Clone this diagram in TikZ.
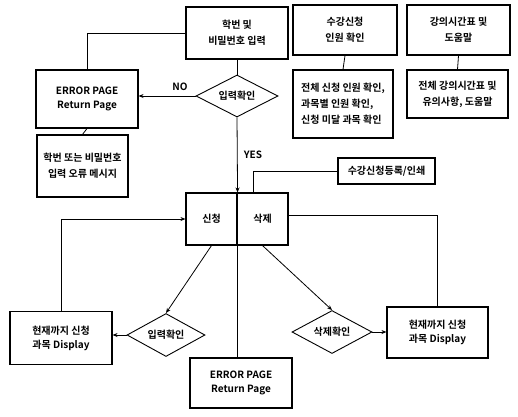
\documentclass[tikz,border=0pt]{standalone}
\usepackage{fontspec}
\setmainfont{Noto Sans CJK KR}[BoldFont={Noto Sans CJK KR Bold}]
\usetikzlibrary{shapes.geometric,arrows.meta,calc}
\begin{document}
\begin{tikzpicture}[x=1pt,y=-1pt,
  box/.style={draw,line width=1.1pt,inner sep=0pt,align=center,font=\fontsize{10}{14}\selectfont\bfseries},
  twol/.style={font=\fontsize{10}{16}\selectfont\bfseries},
  dia/.style={draw,line width=0.9pt,diamond,aspect=2,inner sep=1pt,font=\fontsize{10}{10}\selectfont\bfseries},
  conn/.style={line width=0.8pt},
  arr/.style={line width=0.8pt,-{Stealth[length=5pt,width=4pt]}},
  lbl/.style={font=\fontsize{10}{10}\selectfont\bfseries}]
\useasboundingbox (0,0) rectangle (518,416);
% top row
\node[box,twol,minimum width=102pt,minimum height=52pt] (b1) at (237,33) {학번 및\\비밀번호 입력};
\node[box,twol,minimum width=104pt,minimum height=50pt] (b2) at (345,30) {수강신청\\인원 확인};
\node[box,twol,minimum width=103pt,minimum height=50pt] (b3) at (458.5,30) {강의시간표 및\\도움말};
\node[box,twol,minimum width=100pt,minimum height=68pt,align=left] (b2s) at (343,104) {전체 신청 인원 확인,\\과목별 인원 확인,\\신청 미달 과목 확인};
\node[box,twol,minimum width=101pt,minimum height=48pt] (b3s) at (457.5,94) {전체 강의시간표 및\\유의사항, 도움말};
% error page 1
\node[box,minimum width=102pt,minimum height=58pt] (e1) at (87,99) {ERROR PAGE\\Return Page};
\node[box,twol,minimum width=91pt,minimum height=62pt] (e1s) at (82.5,166) {학번 또는 비밀번호\\입력 오류 메시지};
% decision 1
\node[dia,minimum width=82pt,minimum height=42pt] (d1) at (237,96) {입력확인};
% apply / delete
\node[box,minimum width=51pt,minimum height=52pt] (ap) at (211.5,219) {신청};
\node[box,minimum width=51pt,minimum height=52pt] (de) at (262.5,219) {삭제};
\node[box,minimum width=97pt,minimum height=26pt] (rg) at (386.5,171) {수강신청등록/인쇄};
% lower row
\node[box,minimum width=102pt,minimum height=53pt] (r1) at (61,338) {현재까지 신청\\과목 Display};
\node[dia,minimum width=78pt,minimum height=43pt] (d2) at (166,335) {입력확인};
\node[box,minimum width=102pt,minimum height=50pt] (e2) at (241,383) {ERROR PAGE\\Return Page};
\node[dia,minimum width=80pt,minimum height=43pt] (d3) at (332,332) {삭제확인};
\node[box,minimum width=101pt,minimum height=51pt] (r2) at (437.5,332.5) {현재까지 신청\\과목 Display};
% connectors
\draw[conn] (b1.west) -| (e1.north);
\draw[conn] (b1.south) -- (d1.north);
\draw[arr] (d1.west) -- (d1.west -| e1.east);
\node[lbl] (no) at (180,87) {NO};
\draw[arr] (d1.south) -- (ap.north east);
\node[lbl] (yes) at (253,155) {YES};
\draw[conn] (e1.south) -- (e1s.north);
\draw[conn] (b2.south) -- (b2s.north);
\draw[conn] (b3.south) -- (b3s.north);
\draw[conn] (rg.west) -| ($(de.north west)!0.32!(de.north east)$);
\draw[arr] (r1.north) |- (ap.west);
\draw[conn] (r2.north) |- ([yshift=4pt]de.east);
\draw[arr] (ap.south) -- (d2.north);
\draw[arr] (de.south) -- (d3.north);
\draw[arr] (d2.west) -- (d2.west -| r1.east);
\draw[arr] (d3.east) -- (d3.east -| r2.west);
\draw[conn] (ap.south east) -- (ap.south east |- e2.north);
\end{tikzpicture}
\end{document}
